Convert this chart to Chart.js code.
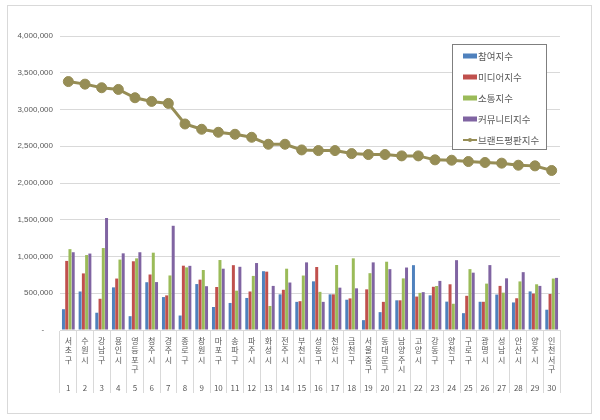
<!DOCTYPE html>
<html><head><meta charset="utf-8">
<script src="https://cdn.jsdelivr.net/npm/chart.js@4.4.0/dist/chart.umd.min.js"></script>
<style>html,body{margin:0;padding:0;background:#fff}#wrap{position:relative;width:600px;height:420px}</style>
</head><body><div id="wrap"><canvas id="c" width="600" height="420"></canvas></div>
<script>
const categories = ['서초구','수원시','강남구','용인시','영등포구','청주시','경주시','종로구','창원시','마포구',
  '송파구','파주시','화성시','전주시','부천시','성동구','천안시','금천구','서울중구','동대문구',
  '남양주시','고양시','강동구','양천구','구로구','광명시','성남시','안산시','양주시','인천서구'];
const ranks = ['1','2','3','4','5','6','7','8','9','10','11','12','13','14','15','16','17','18','19','20',
  '21','22','23','24','25','26','27','28','29','30'];
const seriesNames = ['참여지수','미디어지수','소통지수','커뮤니티지수','브랜드평판지수'];
const participation = [283000,524000,235000,580000,188000,650000,448000,197000,625000,313000,
  368000,436000,800000,485000,383000,662000,485000,412000,134000,243000,
  404000,882000,472000,386000,229000,384000,482000,375000,525000,276000];
const media = [940000,770000,425000,700000,935000,755000,471000,875000,685000,585000,
  882000,524000,794000,547000,392000,857000,485000,430000,553000,383000,
  404000,455000,588000,622000,465000,384000,600000,432000,496000,490000];
const communication = [1100000,1020000,1115000,958000,975000,1052000,742000,852000,816000,952000,
  535000,736000,327000,834000,741000,519000,884000,975000,773000,929000,
  702000,505000,599000,357000,828000,631000,508000,661000,622000,700000];
const community = [1058000,1040000,1524000,1043000,1058000,652000,1418000,873000,596000,834000,
  860000,911000,600000,646000,920000,383000,576000,567000,920000,828000,
  850000,515000,668000,950000,780000,883000,703000,787000,600000,709000];
const brandIndex = [3380000,3345000,3296000,3273000,3160000,3110000,3083000,2803000,2731000,2690000,
  2663000,2622000,2527000,2527000,2450000,2441000,2441000,2400000,2387000,2387000,
  2369000,2369000,2315000,2310000,2292000,2279000,2270000,2242000,2233000,2170000];

const labels = categories.map((c, i) => {
  const chars = Array.from(c);
  while (chars.length < 4) chars.push('');
  chars.push('');
  chars.push(ranks[i]);
  return chars;
});

const colors = ['#4F81BD','#C0504D','#9BBB59','#8064A2','#968D55'];

const frame = {
  id: 'frame',
  beforeDraw(chart) {
    const ctx = chart.ctx;
    ctx.save();
    ctx.fillStyle = '#fff';
    ctx.fillRect(0, 0, chart.width, chart.height);
    ctx.strokeStyle = '#d9d9d9';
    ctx.lineWidth = 1;
    ctx.strokeRect(7.5, 5.5, 584, 408);
    ctx.restore();
  }
};

const boxLegend = {
  id: 'boxLegend',
  afterDraw(chart) {
    const ctx = chart.ctx;
    ctx.save();
    ctx.fillStyle = '#fff';
    ctx.fillRect(453, 45, 93, 104);
    ctx.strokeStyle = '#7f7f7f';
    ctx.lineWidth = 1;
    ctx.strokeRect(452.5, 44.5, 94, 105);
    ctx.font = '9.5px "Noto Sans CJK KR", sans-serif';
    ctx.textBaseline = 'middle';
    ctx.textAlign = 'left';
    chart.data.datasets.forEach((ds, i) => {
      const y = 56 + i * 21;
      if (ds.type === 'line') {
        ctx.strokeStyle = ds.borderColor;
        ctx.lineWidth = 2;
        ctx.beginPath(); ctx.moveTo(463, y); ctx.lineTo(477, y); ctx.stroke();
        ctx.fillStyle = ds.borderColor;
        ctx.beginPath(); ctx.arc(470, y, 2, 0, Math.PI * 2); ctx.fill();
      } else {
        ctx.fillStyle = ds.backgroundColor;
        ctx.fillRect(463, y - 2.5, 14, 5);
      }
      ctx.fillStyle = '#595959';
      ctx.fillText(ds.label, 478, y);
    });
    ctx.restore();
  }
};

const barDs = (name, data, color) => ({
  type: 'bar', label: name, data, backgroundColor: color, borderWidth: 0,
  categoryPercentage: 0.78, barPercentage: 0.92, order: 1
});

new Chart(document.getElementById('c'), {
  data: {
    labels,
    datasets: [
      barDs(seriesNames[0], participation, colors[0]),
      barDs(seriesNames[1], media, colors[1]),
      barDs(seriesNames[2], communication, colors[2]),
      barDs(seriesNames[3], community, colors[3]),
      { type: 'line', label: seriesNames[4], data: brandIndex, borderColor: colors[4], backgroundColor: colors[4],
        borderWidth: 3, pointRadius: 5, pointBackgroundColor: colors[4], pointBorderColor: colors[4],
        pointBorderWidth: 1, tension: 0, order: 0 }
    ]
  },
  options: {
    responsive: false, animation: false, devicePixelRatio: 1,
    layout: { padding: { left: 10, right: 40, top: 36, bottom: 20 } },
    plugins: { legend: { display: false }, tooltip: { enabled: false } },
    scales: {
      x: {
        grid: { display: true, drawOnChartArea: false, drawTicks: true, tickLength: 63, color: '#d9d9d9', offset: true },
        border: { display: true, color: '#d9d9d9' },
        ticks: { autoSkip: false, maxRotation: 0, minRotation: 0, padding: -57, color: '#595959',
          font: { family: '"Noto Sans CJK KR", sans-serif', size: 8, lineHeight: '9.5px' } },
        afterFit(s) { s.height = 70; }
      },
      y: {
        min: 0, max: 4000000,
        ticks: { stepSize: 500000, padding: 7, color: '#595959',
          font: { family: '"Liberation Sans", sans-serif', size: 8 },
          callback: v => v === 0 ? '-    ' : Number(v).toLocaleString('en-US') },
        grid: { color: '#d9d9d9', drawTicks: false },
        border: { display: false },
        afterFit(s) { s.width = 50; }
      }
    }
  },
  plugins: [frame, boxLegend]
});
</script>
</body></html>
